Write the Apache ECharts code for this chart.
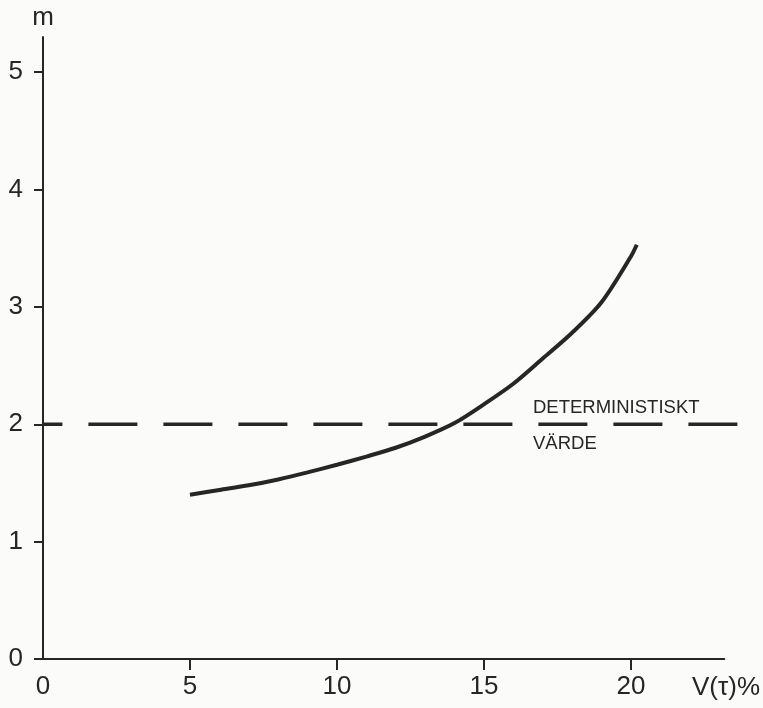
<!DOCTYPE html>
<html>
<head>
<meta charset="utf-8">
<script src="https://cdn.jsdelivr.net/npm/echarts@6/dist/echarts.min.js"></script>
<style>
  html, body { margin: 0; padding: 0; background: #fbfbfa; }
  #chart { width: 763px; height: 708px; }
</style>
</head>
<body>
<div id="chart"></div>
<script>
// Variationskoefficient V(τ) i procent och motsvarande m
const vPercent = [5, 6, 7, 8, 9, 10, 11, 12, 13, 14, 15, 16, 17, 18, 19, 20, 20.2];
const mValues  = [1.40, 1.44, 1.48, 1.53, 1.59, 1.655, 1.725, 1.80, 1.895, 2.01, 2.17, 2.345, 2.56, 2.78, 3.04, 3.43, 3.53];

// Deterministiskt värde (horisontell streckad linje)
const deterministicValue = 2;
const deterministicSpan = [0, 23.95];
const deterministicLabel = ['DETERMINISTISKT', 'VÄRDE'];

// Axelmarkeringar
const xTickValues = [5, 10, 15, 20];
const xLabelValues = [0, 5, 10, 15, 20];
const xAxisEnd = 23.17;
const yMax = 5.3;

const ink = '#262626';
const font = '"Liberation Sans", Arial, sans-serif';

const chart = echarts.init(document.getElementById('chart'), null, { renderer: 'canvas' });

chart.setOption({
  backgroundColor: '#fbfbfa',
  animation: false,
  grid: [
    { left: 43, right: 16, top: 37, bottom: 49 },
    { left: 43, right: 38.7, top: 37, bottom: 49 }
  ],
  xAxis: [
    {
      gridIndex: 0,
      type: 'value',
      min: 0,
      max: deterministicSpan[1],
      name: 'V(τ)%',
      nameLocation: 'end',
      nameGap: 13,
      nameTextStyle: {
        color: ink, fontFamily: font, fontSize: 26,
        align: 'right', verticalAlign: 'top', padding: [16, 0, 0, 0]
      },
      axisLine: { show: false },
      axisTick: {
        show: true, length: 11, customValues: xTickValues,
        lineStyle: { color: ink, width: 2 }
      },
      axisLabel: {
        customValues: xLabelValues,
        margin: 15, color: ink, fontFamily: font, fontSize: 26
      },
      splitLine: { show: false }
    },
    {
      gridIndex: 1,
      type: 'value',
      min: 0,
      max: xAxisEnd,
      axisLine: { show: true, lineStyle: { color: ink, width: 2 } },
      axisTick: { show: false },
      axisLabel: { show: false },
      splitLine: { show: false }
    }
  ],
  yAxis: [
    {
      gridIndex: 0,
      type: 'value',
      min: 0,
      max: yMax,
      interval: 1,
      name: 'm',
      nameLocation: 'end',
      nameGap: 6,
      nameTextStyle: { color: ink, fontFamily: font, fontSize: 26, align: 'center' },
      axisLine: { show: true, lineStyle: { color: ink, width: 2 } },
      axisTick: { show: true, length: 9, lineStyle: { color: ink, width: 2 } },
      axisLabel: {
        margin: 20, color: ink, fontFamily: font, fontSize: 26,
        showMaxLabel: false
      },
      splitLine: { show: false }
    },
    {
      gridIndex: 1,
      type: 'value',
      min: 0,
      max: yMax,
      show: false
    }
  ],
  series: [
    {
      type: 'line',
      xAxisIndex: 0,
      yAxisIndex: 0,
      data: deterministicSpan.map(x => [x, deterministicValue]),
      symbol: 'none',
      silent: true,
      lineStyle: {
        color: ink, width: 3.5, type: [49, 26], dashOffset: 29.6, cap: 'butt'
      },
      markPoint: {
        symbol: 'circle',
        symbolSize: 0,
        silent: true,
        data: [
          {
            coord: [16.67, deterministicValue],
            label: {
              show: true, formatter: deterministicLabel[0],
              position: [0, 0], align: 'left', verticalAlign: 'bottom',
              offset: [0, -7], color: ink, fontFamily: font, fontSize: 18.5, lineHeight: 18
            }
          },
          {
            coord: [16.67, deterministicValue],
            label: {
              show: true, formatter: deterministicLabel[1],
              position: [0, 0], align: 'left', verticalAlign: 'top',
              offset: [0, 11], color: ink, fontFamily: font, fontSize: 18.5, lineHeight: 18
            }
          }
        ]
      }
    },
    {
      type: 'line',
      xAxisIndex: 0,
      yAxisIndex: 0,
      data: vPercent.map((v, i) => [v, mValues[i]]),
      smooth: 0.3,
      symbol: 'none',
      lineStyle: { color: ink, width: 4, cap: 'butt' }
    }
  ]
});
</script>
</body>
</html>
